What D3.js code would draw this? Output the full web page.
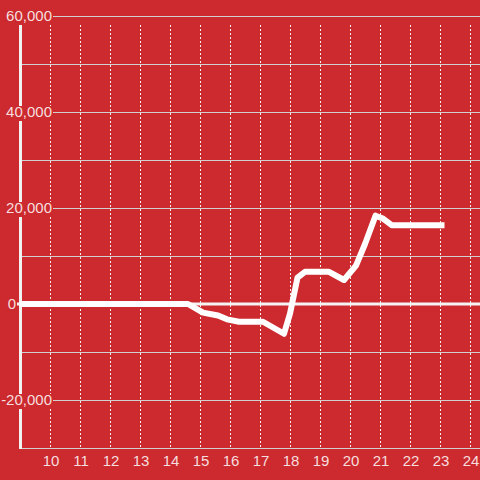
<!DOCTYPE html>
<html>
<head>
<meta charset="utf-8">
<script src="https://cdn.jsdelivr.net/npm/d3@7"></script>
<style>
  html, body { margin: 0; padding: 0; background: #cc2a2f; }
  svg { display: block; font-family: "Liberation Sans", Arial, sans-serif; }
</style>
</head>
<body>
<div id="chart"></div>
<script>
// hours (x) and running balance (y)
let hours = [9, 14.6, 15.1, 15.6, 15.9, 16.3, 17.1, 17.8, 18.0, 18.25, 18.5, 19.3, 19.8, 20.2, 20.5, 20.85, 21.1, 21.4, 23.15];
let balance = [0, 0, -1800, -2400, -3200, -3700, -3700, -6200, -2000, 5500, 6700, 6700, 5000, 8000, 12500, 18400, 17800, 16400, 16400];

let xTicks = [10, 11, 12, 13, 14, 15, 16, 17, 18, 19, 20, 21, 22, 23, 24];
let yGrid = [-20000, -10000, 10000, 20000, 30000, 40000, 50000, 60000];
let yLabels = [60000, 40000, 20000, 0, -20000];

let width = 480, height = 480;
let bg = '#cc2a2f';
let textColor = '#f6dede';

let x = d3.scaleLinear().domain([9, 24 + 1 / 3]).range([20, 480]);
let y = d3.scaleLinear().domain([-30000, 60000]).range([448, 16]);

let svg = d3.select('#chart').append('svg')
  .attr('width', width)
  .attr('height', height);

svg.append('rect')
  .attr('width', width)
  .attr('height', height)
  .attr('fill', bg);

// horizontal grid
svg.append('g').selectAll('line')
  .data(yGrid)
  .join('line')
  .attr('x1', 21).attr('x2', width)
  .attr('y1', d => y(d) + 0.5).attr('y2', d => y(d) + 0.5)
  .attr('stroke', '#d0d0d0')
  .attr('stroke-width', 1);

// vertical dotted grid
svg.append('g').selectAll('line')
  .data(xTicks)
  .join('line')
  .attr('x1', d => x(d) + 0.5).attr('x2', d => x(d) + 0.5)
  .attr('y1', 25).attr('y2', y(-30000))
  .attr('stroke', '#f0f0f0')
  .attr('stroke-width', 1)
  .attr('stroke-dasharray', '2,2');

// bottom axis line
svg.append('line')
  .attr('x1', 21).attr('x2', width)
  .attr('y1', y(-30000) + 0.5).attr('y2', y(-30000) + 0.5)
  .attr('stroke', '#d0d0d0');

// left axis bar
svg.append('line')
  .attr('x1', x(9) + 0.5).attr('x2', x(9) + 0.5)
  .attr('y1', 16).attr('y2', y(-30000) + 1)
  .attr('stroke', '#f2f2f2')
  .attr('stroke-width', 3);

// zero line
svg.append('line')
  .attr('x1', 17).attr('x2', width)
  .attr('y1', y(0)).attr('y2', y(0))
  .attr('stroke', '#f4f4f4')
  .attr('stroke-width', 3);

// data line
let pts = hours.map((h, i) => [h, balance[i]]);
svg.append('path')
  .datum(pts)
  .attr('fill', 'none')
  .attr('stroke', '#ffffff')
  .attr('stroke-width', 6)
  .attr('stroke-linejoin', 'round')
  .attr('d', d3.line().x(d => x(d[0])).y(d => y(d[1])));

// y labels with boxes behind them (the zero label sits left of the axis)
let fmt = d => d3.format(',')(d).replace('\u2212', '-');
let yl = svg.append('g').selectAll('g')
  .data(yLabels)
  .join('g');
yl.append('text')
  .attr('x', d => d === 0 ? 16 : 52)
  .attr('y', d => y(d))
  .attr('dy', '0.35em')
  .attr('text-anchor', 'end')
  .attr('font-size', 15)
  .attr('fill', textColor)
  .text(d => fmt(d));
yl.each(function (d) {
  let g = d3.select(this);
  let b = g.select('text').node().getBBox();
  g.insert('rect', 'text')
    .attr('x', b.x - 1).attr('y', y(d) - 6)
    .attr('width', b.width + 2).attr('height', 15)
    .attr('fill', bg);
});

// x labels
svg.append('g').selectAll('text')
  .data(xTicks)
  .join('text')
  .attr('x', d => x(d) + 1)
  .attr('y', 461)
  .attr('dy', '0.35em')
  .attr('text-anchor', 'middle')
  .attr('font-size', 15)
  .attr('fill', textColor)
  .text(d => d);
</script>
</body>
</html>
